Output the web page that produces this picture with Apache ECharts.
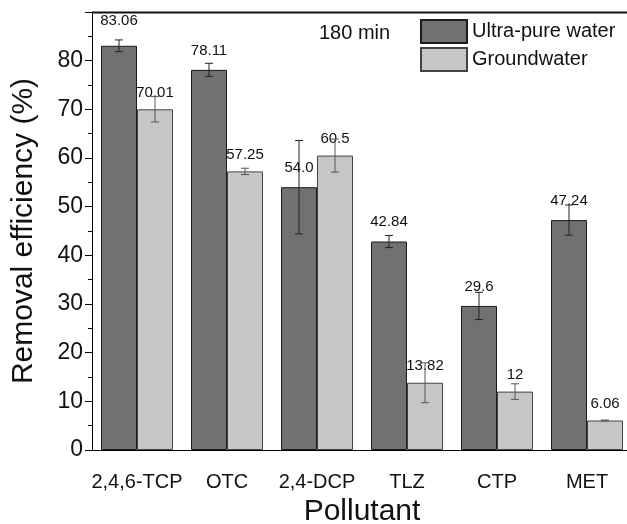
<!DOCTYPE html>
<html>
<head>
<meta charset="utf-8">
<script src="https://cdn.jsdelivr.net/npm/echarts@6/dist/echarts.min.js"></script>
<style>
  html, body { margin: 0; padding: 0; background: #fff; }
  #chart { width: 627px; height: 524px; }
</style>
</head>
<body>
<div id="chart"></div>
<script>
// Removal efficiency after 180 min, per pollutant and water matrix
const categories = ['2,4,6-TCP', 'OTC', '2,4-DCP', 'TLZ', 'CTP', 'MET'];
const ultraPure = [83.06, 78.11, 54.0, 42.84, 29.6, 47.24];
const ultraPureLabels = ['83.06', '78.11', '54.0', '42.84', '29.6', '47.24'];
const ultraPureErr = [1.2, 1.35, 9.6, 1.25, 2.8, 3.1];
const groundwater = [70.01, 57.25, 60.5, 13.82, 12, 6.06];
const groundwaterLabels = ['70.01', '57.25', '60.5', '13.82', '12', '6.06'];
const groundwaterErr = [2.6, 0.65, 3.4, 4.1, 1.6, 0.1];

const FONT = "'Liberation Sans', Arial, sans-serif";
const TXT = '#111';

const chart = echarts.init(document.getElementById('chart'), null, { renderer: 'canvas' });

// error bar drawn at the centre of the dark (side=-1) or light (side=+1) bar
function errorBar(side, color) {
  return function (params, api) {
    const x = api.value(0);
    const lo = api.coord([x, api.value(1)]);
    const hi = api.coord([x, api.value(2)]);
    const band = api.size([1, 0])[0];
    const cx = lo[0] + side * band * 0.2;
    const cap = 4;
    const style = { stroke: color, lineWidth: 1 };
    return {
      type: 'group',
      children: [
        { type: 'line', shape: { x1: cx, y1: hi[1], x2: cx, y2: lo[1] }, style },
        { type: 'line', shape: { x1: cx - cap, y1: hi[1], x2: cx + cap, y2: hi[1] }, style },
        { type: 'line', shape: { x1: cx - cap, y1: lo[1], x2: cx + cap, y2: lo[1] }, style }
      ]
    };
  };
}

const upData = ultraPure.map((v, i) => ({
  value: v,
  label: { formatter: ultraPureLabels[i], distance: i === 0 ? 17 : 12 }
}));
const gwData = groundwater.map((v, i) => ({
  value: v,
  label: { formatter: groundwaterLabels[i] }
}));

const GRID = { left: 92, top: 12, width: 540, bottom: 74 };

const option = {
  animation: false,
  backgroundColor: '#fff',
  // the frame runs past the right edge of the canvas
  grid: Object.assign({ outerBoundsMode: 'none' }, GRID),
  legend: {
    orient: 'vertical',
    left: 420, top: 19, padding: 0,
    itemWidth: 46, itemHeight: 23, itemGap: 3,
    icon: 'rect',
    data: ['Ultra-pure water', 'Groundwater'],
    textStyle: { fontFamily: FONT, fontSize: 20, color: TXT }
  },
  graphic: {
    elements: [{
      // top edge of the frame
      type: 'rect',
      x: GRID.left, y: GRID.top - 0.5,
      shape: { x: 0, y: 0, width: GRID.width, height: 2 },
      style: { fill: '#111' },
      z: 100
    }, {
      type: 'text', x: 319, y: 23,
      style: { text: '180 min', font: '20px ' + FONT, fill: TXT }
    }]
  },
  xAxis: [{
    type: 'category',
    data: categories,
    position: 'bottom',
    name: 'Pollutant',
    nameLocation: 'middle',
    nameGap: 46,
    nameTextStyle: { fontFamily: FONT, fontSize: 30, color: TXT },
    axisLine: { lineStyle: { color: '#000', width: 1 } },
    axisTick: { alignWithLabel: true, length: 8, lineStyle: { color: '#000' } },
    axisLabel: { interval: 0, fontFamily: FONT, fontSize: 20, color: TXT, margin: 22 },
    splitLine: { show: false }
  }, {
    // short ticks on the category boundaries
    type: 'category',
    data: categories,
    position: 'bottom',
    axisLine: { show: false },
    axisTick: { interval: 0, length: 5, lineStyle: { color: '#000' } },
    axisLabel: { show: false },
    splitLine: { show: false }
  }],
  yAxis: {
    type: 'value',
    min: 0, max: 90, interval: 10,
    name: 'Removal efficiency (%)',
    nameLocation: 'middle',
    nameGap: 53,
    nameTextStyle: { fontFamily: FONT, fontSize: 30, color: TXT },
    axisLine: { show: true, lineStyle: { color: '#000', width: 1 } },
    axisTick: { show: true, length: 7, lineStyle: { color: '#000' } },
    minorTick: { show: true, splitNumber: 2, length: 4, lineStyle: { color: '#000' } },
    axisLabel: {
      fontFamily: FONT, fontSize: 23, color: TXT, margin: 9,
      formatter: v => (v > 80 ? '' : String(v))
    },
    splitLine: { show: false }
  },
  series: [{
    name: 'Ultra-pure water',
    type: 'bar',
    data: upData,
    barWidth: '40%',
    barGap: '0%',
    itemStyle: { color: '#717171', borderColor: '#1a1a1a', borderWidth: 1 },
    label: { show: true, position: 'top', fontFamily: FONT, fontSize: 15, color: TXT }
  }, {
    name: 'Groundwater',
    type: 'bar',
    data: gwData,
    barWidth: '40%',
    barGap: '0%',
    itemStyle: { color: '#c6c6c6', borderColor: '#444', borderWidth: 1 },
    label: { show: true, position: 'top', distance: 9, fontFamily: FONT, fontSize: 15, color: TXT }
  }, {
    type: 'custom',
    renderItem: errorBar(-1, '#222'),
    data: ultraPure.map((v, i) => [i, v - ultraPureErr[i], v + ultraPureErr[i]]),
    z: 5,
    silent: true
  }, {
    type: 'custom',
    renderItem: errorBar(1, '#555'),
    data: groundwater.map((v, i) => [i, v - groundwaterErr[i], v + groundwaterErr[i]]),
    z: 5,
    silent: true
  }]
};

chart.setOption(option);
</script>
</body>
</html>
